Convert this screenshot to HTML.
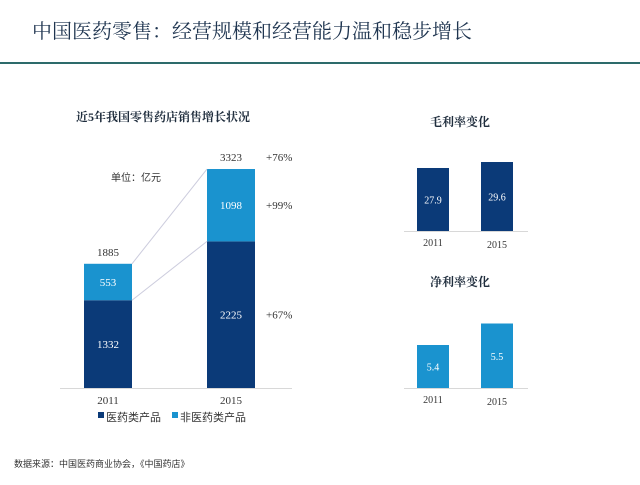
<!DOCTYPE html>
<html><head><meta charset="utf-8">
<style>
body{margin:0;width:640px;height:480px;background:#fff;overflow:hidden;font-family:"Liberation Serif","Noto Serif CJK SC",serif;}
svg text{font-family:"Liberation Serif","Noto Serif CJK SC",serif;}
.sans{font-family:"Liberation Sans","Noto Sans CJK SC",sans-serif;}
</style></head>
<body>
<svg id="c" width="640" height="480" xmlns="http://www.w3.org/2000/svg">
<text x="32" y="38" font-size="20" fill="#1f3550" style="font-family:'Liberation Serif','Noto Serif CJK SC',serif">中国医药零售：经营规模和经营能力温和稳步增长</text>
<rect x="0" y="62" width="640" height="2" fill="#2d6b6b"/>
<text x="76" y="121" font-size="12" font-weight="bold" fill="#1f2d3d">近5年我国零售药店销售增长状况</text>
<text x="111" y="181" font-size="10" fill="#333" class="sans">单位：亿元</text>
<text x="460" y="126" font-size="12" font-weight="bold" fill="#1f2d3d" text-anchor="middle">毛利率变化</text>
<text x="460" y="286" font-size="12" font-weight="bold" fill="#1f2d3d" text-anchor="middle">净利率变化</text>
<text x="14" y="467" font-size="9" fill="#333" class="sans">数据来源：中国医药商业协会，《中国药店》</text>
<g id="main"></g><g id="g1"></g><g id="g2"></g>
<rect x="98" y="412" width="6" height="6" fill="#0b3a78"/>
<text x="106" y="421" font-size="11" fill="#333" class="sans">医药类产品</text>
<rect x="172" y="412" width="6" height="6" fill="#1a93cf"/>
<text x="180" y="421" font-size="11" fill="#333" class="sans">非医药类产品</text>
</svg>
<script>
const categories=["2011","2015"];
const pharma=[1332,2225];
const nonPharma=[553,1098];
const totalLabels=["1885","3323"];
const growthLabels=["+76%","+99%","+67%"];
const grossMargin=[27.9,29.6];
const netMargin=[5.4,5.5];
const NS="http://www.w3.org/2000/svg";
function mk(p,tag,a){const e=document.createElementNS(NS,tag);for(const k in a)e.setAttribute(k,a[k]);p.appendChild(e);return e;}
// main chart
const main=document.getElementById('main');
const base=388, k=0.0659;
const y=v=>base-v*k;
const xs=[84,207], bw=48;
const ax=mk(main,'line',{x1:60,x2:292,y1:base+0.5,y2:base+0.5,stroke:'#d8d8d8'});

const tops=[],mids=[];
categories.forEach((c,i)=>{
  const yp=y(pharma[i]), yt=y(pharma[i]+nonPharma[i]);
  const r1=mk(main,'rect',{x:xs[i],y:yp,width:bw,height:base-yp,fill:'#0b3a78'});
  
  const r2=mk(main,'rect',{x:xs[i],y:yt,width:bw,height:yp-yt,fill:'#1a93cf'});
  
  const t1=mk(main,'text',{x:xs[i]+bw/2,y:(yp+base)/2+4,'font-size':11,fill:'#fff','text-anchor':'middle'});t1.textContent=pharma[i];
  
  const t2=mk(main,'text',{x:xs[i]+bw/2,y:(yp+yt)/2+4,'font-size':11,fill:'#fff','text-anchor':'middle'});t2.textContent=nonPharma[i];
  
  const t3=mk(main,'text',{x:xs[i]+bw/2,y:yt-8,'font-size':11,fill:'#333','text-anchor':'middle'});t3.textContent=totalLabels[i];
  
  const t4=mk(main,'text',{x:xs[i]+bw/2,y:base+16,'font-size':11,fill:'#333','text-anchor':'middle'});t4.textContent=c;
  
  tops.push(yt);mids.push(yp);
});
const l1=mk(main,'line',{x1:xs[0]+bw,y1:tops[0],x2:xs[1],y2:tops[1],stroke:'#ccd',"stroke-width":1});

const l2=mk(main,'line',{x1:xs[0]+bw,y1:mids[0],x2:xs[1],y2:mids[1],stroke:'#ccd',"stroke-width":1});

const gy=[tops[1]-8,(tops[1]+mids[1])/2+4,(mids[1]+base)/2+4];
growthLabels.forEach((g,i)=>{const t=mk(main,'text',{x:266,y:gy[i],'font-size':11,fill:'#333'});t.textContent=g;
  });
// small charts
function small(id,data,b,min,kk,color,name){
  const g=document.getElementById(id);
  const a=mk(g,'line',{x1:404,x2:528,y1:b+0.5,y2:b+0.5,stroke:'#d8d8d8'});
  
  const bx=[417,481];
  data.forEach((v,i)=>{
    const top=b-(v-min)*kk;
    const r=mk(g,'rect',{x:bx[i],y:top,width:32,height:b-top,fill:color});
    
    const t=mk(g,'text',{x:bx[i]+16,y:(top+b)/2+4,'font-size':10,fill:'#fff','text-anchor':'middle'});t.textContent=v.toFixed(1);
    
    const l=mk(g,'text',{x:bx[i]+16,y:b+15+i*2,'font-size':10,fill:'#333','text-anchor':'middle'});l.textContent=categories[i];
    
  });
}
small('g1',grossMargin,231,10,3.52,'#0b3a78','gross-margin');
small('g2',netMargin,388,5.2,215,'#1a93cf','net-margin');
</script>
</body></html>
